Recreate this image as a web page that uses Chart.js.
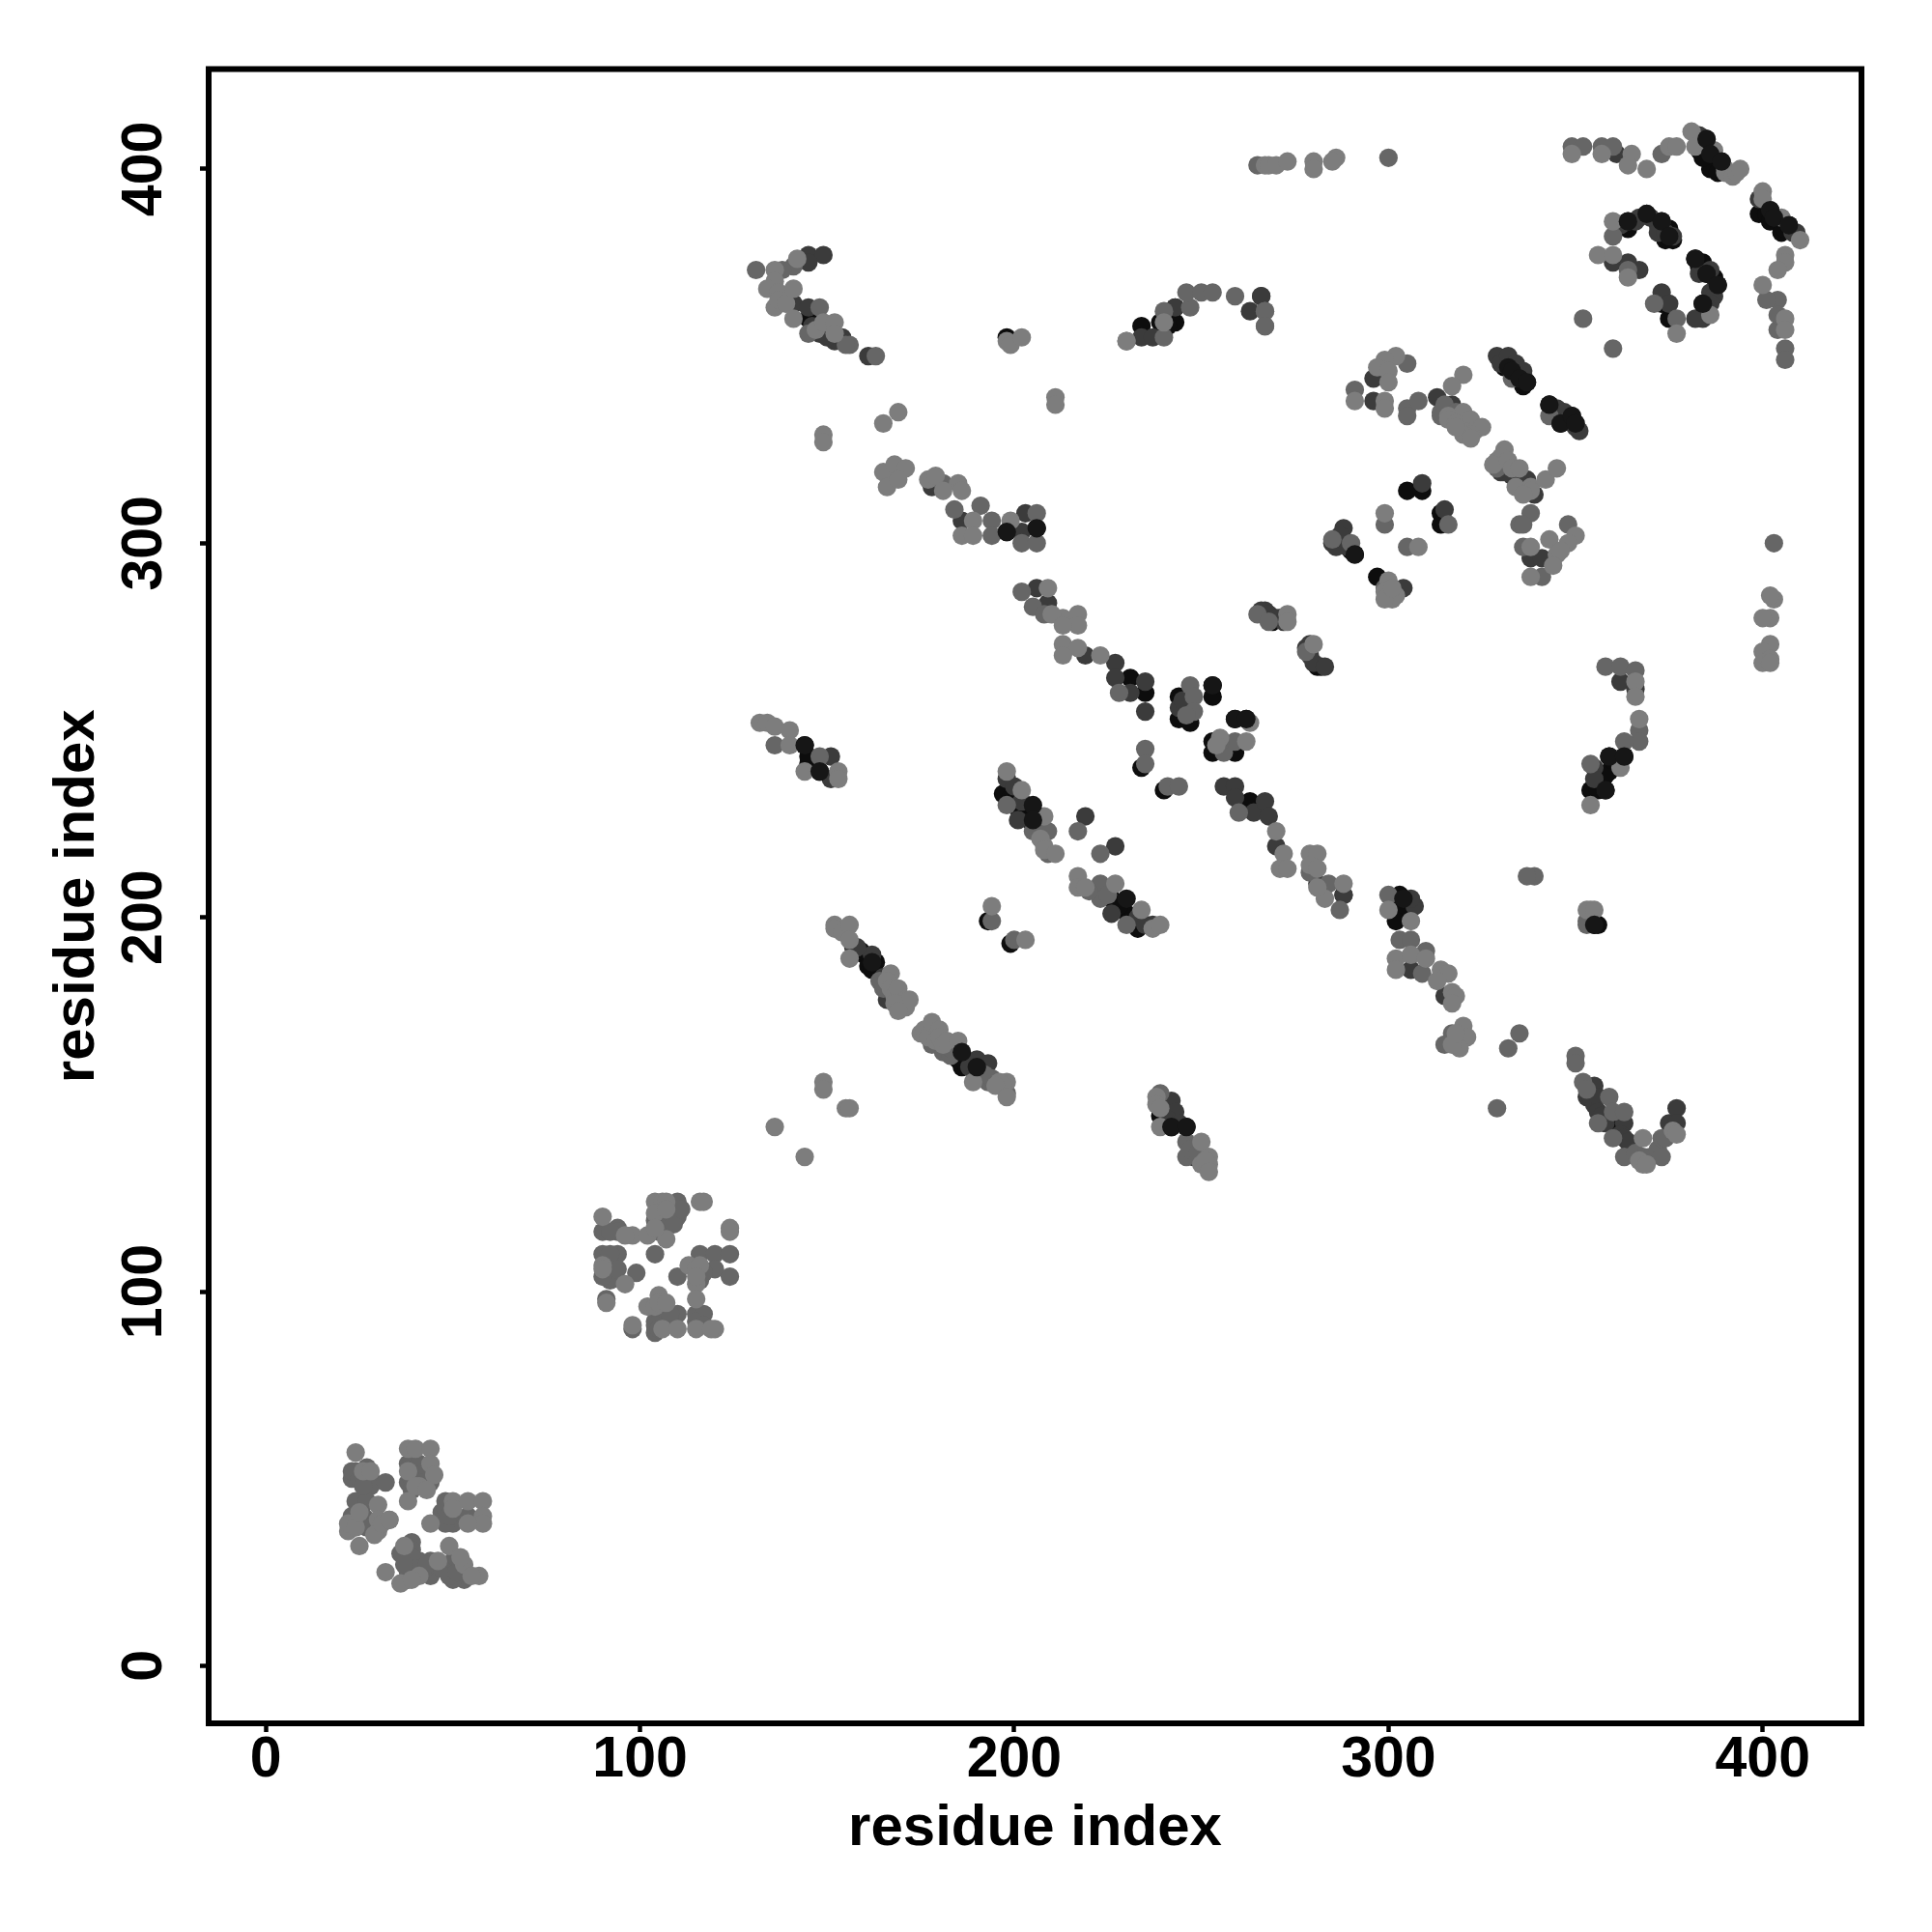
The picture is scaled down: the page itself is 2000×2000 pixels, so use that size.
<!DOCTYPE html>
<html>
<head>
<meta charset="utf-8">
<title>residue contact map</title>
<script src="https://cdn.jsdelivr.net/npm/chart.js@4"></script>
<style>
  body { margin: 0; background: #fff; }
  canvas { display: block; }
</style>
</head>
<body>
<canvas id="contactMap" width="2000" height="2000"></canvas>
<script>
// contacts, grouped by grey level: [residue, residue]
const blackPoints = [
  [144,246],[145,241],[148,239],[145,243],[197,233],[201,229],[205,226],[204,226],[203,228],[199,232],[160,190],[161,187],[163,188],[159,191],[162,186],[186,160],[190,159],[185,162],[187,161],
  [226,205],[233,197],[230,201],[228,203],[231,199],[193,199],[199,193],[239,147],[240,148],[242,144],[246,144],[240,234],[234,240],
  [253,247],[253,244],[259,244],[263,231],[231,264],[235,260],[244,259],[244,253],[247,252],[253,262],[253,259],[259,253],[262,253],
  [303,206],[303,203],[304,205],[305,204],[303,201],[302,199],[355,198],[356,198],[354,234],[356,234],[358,234],[357,236],[358,238],[359,243],[359,239],[360,242],[363,243],[271,280],[269,279],[281,267],[282,267],
  [360,145],[361,143],[198,303],[206,304],[198,355],[234,358],[239,359],[243,359],[241,358],[243,363],[145,360],
  [382,376],[384,375],[383,374],[388,369],[387,371],[384,364],[373,364],[375,360],[364,384],[375,384],[374,381],[376,381],[375,382],
  [385,408],[383,405],[384,406],[386,404],[387,403],[388,401],[386,400],[384,403],[389,402],[388,399],[402,389],[399,388],[401,388],[402,386],[403,387],[407,385],[405,383],[406,384],
  [331,347],[333,346],[337,343],[336,342],[335,344],[343,337],[344,336],[349,334],[346,332],[348,333],[309,314],[305,314],[314,308],[314,305],[291,297],[290,298],[297,291],[300,289]
];
const darkPoints = [
  [151,243],[151,237],[198,237],[202,231],[201,226],[200,235],[206,224],[157,192],[162,190],[158,192],[165,184],[166,178],[190,162],[193,161],[184,164],[188,160],[191,159],
  [226,201],[233,200],[237,198],[235,198],[219,227],[227,219],[242,151],[243,148],[241,146],[244,145],[248,136],
  [256,235],[259,235],[259,232],[264,228],[267,231],[268,227],[270,219],[235,255],[227,268],[227,264],[231,260],[235,263],[244,256],[245,258],
  [209,284],[206,288],[219,270],[203,308],[202,303],[186,306],[178,315],[281,209],[288,206],
  [145,377],[149,377],[145,375],[141,364],[145,363],[148,356],[152,354],[154,355],[150,355],[146,358],[161,350],
  [234,355],[237,355],[243,363],[263,362],[266,366],
  [267,282],[266,282],[268,281],[270,280],[272,279],[279,273],[278,272],[279,270],[280,268],[283,267],[362,263],[366,261],[355,240],[355,237],[307,203],[306,205],[306,186],[288,206],[315,179],
  [355,155],[353,152],[354,152],[355,150],[356,152],[356,148],[357,147],[358,145],[363,145],[362,142],[363,141],[364,140],[375,145],[377,149],[377,145],
  [361,404],[383,409],[399,392],[409,383],[408,383],[364,386],[362,385],[366,386],[367,387],[369,388],[370,387],[373,386],[372,385],[372,383],[374,383],[376,382],[360,375],[364,375],[367,373],
  [386,373],[385,372],[383,372],[386,367],[387,366],[386,364],[385,363],[384,360],[382,360],[373,367],[375,364],
  [329,350],[330,348],[332,350],[332,347],[334,348],[336,345],[336,346],[345,336],[347,335],[350,332],[350,331],[351,330],[330,319],[331,319],[333,318],[335,317],[337,316],[337,317],[339,313],
  [296,344],[296,338],[313,339],[317,337],[309,316],[315,309],[288,304],[285,300],[287,302],[289,299],[286,299],[338,296],[341,296],[304,288],[301,287],[266,366]
];
const midPoints = [
  [24,52],[23,50],[27,53],[28,50],[28,48],[24,44],[27,44],[23,40],[27,39],[33,39],[32,49],[24,39],[23,52],[25,50],[26,48],[26,40],[28,38],[27,37],
  [38,54],[41,54],[38,49],[41,51],[44,49],[39,50],[42,49],[39,47],[48,44],[50,40],[54,40],[50,38],[47,41],[48,42],[48,38],[49,40],[39,33],[39,31],[36,30],[44,28],[41,28],[50,28],[44,24],[38,25],[38,23],[53,23],[50,23],[39,29],[40,26],[37,27],[42,25],[47,26],[49,24],[51,25],[43,27],
  [94,117],[90,116],[94,116],[104,119],[110,120],[110,124],[106,117],[104,110],[94,110],[90,110],[116,110],[120,110],[124,110],[92,116],[92,110],[91,104],[92,104],[92,103],[105,122],[106,120],[108,118],[105,116],[109,118],[111,122],
  [90,104],[94,106],[99,105],[110,104],[116,103],[120,106],[124,104],[117,105],[115,94],[110,94],[106,94],[117,94],[104,92],[104,89],[98,90],[91,98],[106,92],[108,92],[104,91],[105,90],[115,92],[117,91],[108,94],
  [136,246],[148,243],[198,230],[205,223],[209,223],[209,217],[223,209],[223,205],[225,206],[220,207],[230,198],[217,223],[223,217],[194,199],[200,194],
  [165,181],[164,183],[178,166],[181,164],[183,163],[183,165],[193,156],[198,153],[194,157],[192,158],[246,140],[246,136],[239,153],[247,138],[249,137],
  [235,245],[235,241],[241,235],[244,235],[256,244],[260,228],[259,247],[255,247],
  [202,287],[205,283],[208,281],[184,309],[191,310],[181,316],[194,306],[194,302],[206,308],[202,300],[206,300],[228,260],[247,262],[248,259],[248,255],[246,254],
  [131,373],[141,374],[138,373],[148,363],[145,356],[156,353],[155,353],[163,350],[230,354],[240,362],[240,355],[247,363],[246,367],[250,367],[253,367],[259,366],[267,362],[267,358],
  [300,206],[303,194],[306,194],[310,191],[309,185],[279,212],[284,209],[287,202],[317,169],[315,166],[265,281],[268,279],[278,271],[299,288],
  [358,267],[362,267],[366,266],[367,250],[367,247],[363,247],[354,241],[339,211],[337,211],[350,163],[350,161],[329,149],[335,169],[332,165],[353,199],[353,198],
  [352,156],[353,154],[359,152],[356,145],[360,148],[363,148],[360,141],[363,136],[366,137],[368,136],[370,136],[372,138],[373,136],[373,141],[374,141],
  [265,401],[300,403],[349,406],[352,406],[357,406],[360,406],[373,404],[404,365],[404,357],[406,352],[406,349],[404,361],[401,365],[403,300],
  [360,382],[364,373],[371,364],[377,360],[352,360],[360,352],[305,348],[291,341],[305,336],[305,334],[308,338],[314,334],[343,334],
  [314,335],[315,337],[318,335],[329,320],[331,321],
  [338,308],[335,305],[336,305],[348,305],[336,299],[341,291],[305,299],[299,305],[285,301],[290,300],[316,305],[267,362],[267,358],[333,344]
];
const lightPoints = [
  [24,57],[38,58],[40,58],[44,58],[44,54],[30,43],[22,36],[25,32],[30,36],[30,39],[45,51],[41,48],[38,44],[26,52],[28,52],[22,38],[24,37],[29,35],[31,38],[25,41],[38,52],[40,48],[43,47],
  [50,44],[54,44],[58,44],[58,40],[58,38],[54,38],[44,38],[49,32],[41,24],[46,28],[53,27],[32,25],[57,24],[36,22],[33,39],[50,42],[37,32],[39,23],[55,24],[52,29],
  [90,120],[98,115],[102,115],[104,124],[106,124],[107,124],[116,124],[117,124],[107,114],[124,117],[124,116],[113,107],[115,106],[115,102],[96,115],[90,107],[104,121],[107,122],[104,117],[116,107],[115,104],
  [96,102],[90,106],[91,97],[105,99],[102,96],[115,98],[115,90],[120,90],[106,90],[110,90],[98,91],[104,96],[105,97],[119,90],[107,97],
  [132,252],[134,252],[136,251],[140,250],[140,246],[144,239],[153,239],[153,237],
  [198,239],[202,234],[208,227],[208,219],[207,221],[208,218],[211,217],[217,211],[217,208],[219,208],[227,209],[234,202],[237,197],[239,198],[194,203],[203,194],
  [152,198],[152,197],[154,196],[156,198],[156,194],[156,189],[167,185],[166,183],[167,181],[168,179],[169,181],[170,177],[171,178],[171,176],[172,178],[168,177],[169,175],
  [175,169],[176,170],[177,168],[178,172],[179,167],[180,170],[180,168],[181,166],[182,167],[185,167],[189,156],[198,156],[196,156],[197,155],[195,155],[198,152],
  [149,156],[149,154],[155,149],[156,149],[136,144],[144,136],
  [238,152],[238,150],[239,149],[239,144],[250,140],[252,136],[252,134],[250,134],[251,135],[252,132],
  [270,223],[272,217],[271,213],[273,213],[262,247],[263,252],[255,248],[254,246],
  [213,280],[210,281],[217,281],[217,278],[213,278],[213,273],[217,272],[213,270],[223,270],[209,288],
  [165,319],[168,321],[171,320],[166,315],[169,317],[177,317],[179,318],[185,316],[186,314],[181,314],[189,306],[186,302],[189,302],[199,306],
  [142,376],[136,373],[136,370],[134,368],[137,367],[136,363],[137,365],[139,364],[141,368],[141,360],[147,357],[149,359],[152,359],[152,356],[149,329],[149,327],[165,332],[169,335],[211,339],[211,337],
  [198,354],[199,353],[202,355],[240,359],[230,354],
  [273,281],[273,279],[280,273],[402,280],[400,280],[403,285],[402,273],[400,271],[402,269],[400,268],[402,268],[402,286],
  [279,217],[281,217],[279,214],[281,213],[283,205],[288,209],[281,208],[354,202],[353,202],
  [300,202],[306,199],[302,189],[306,190],[302,186],[310,189],[314,186],[316,185],[313,183],[317,180],[318,179],[317,177],[320,171],[321,168],[319,165],[317,166],[318,169],
  [366,263],[366,259],[367,253],[362,240],[354,230],[355,202],[368,141],[368,134],[367,135],[369,134],[376,143],[377,142],
  [267,401],[268,401],[270,401],[273,402],[280,402],[280,400],[286,403],[285,402],[349,404],[357,404],[365,404],[364,401],[369,400],[375,406],[377,406],[381,410],[382,406],[387,405],
  [390,399],[390,400],[392,398],[393,399],[394,400],[400,394],[400,392],[410,381],[405,387],[406,377],[406,375],[400,369],[404,373],[406,360],[406,357],
  [360,386],[356,377],[360,377],[364,371],[386,361],[377,356],
  [302,350],[299,349],[297,347],[300,346],[300,343],[291,338],[299,338],[299,336],[320,345],[317,342],[320,335],[316,334],[316,333],[318,332],[322,333],[320,330],[323,330],[325,331],[322,329],[320,329],[322,328],[318,331],
  [331,325],[330,323],[329,322],[328,321],[332,322],[333,320],[335,320],[334,315],[338,315],[338,314],[336,313],[342,317],[345,320],
  [350,302],[348,300],[343,301],[338,299],[345,297],[346,298],[344,294],[338,291],[299,308],[308,299],[300,290],[299,287],[301,285],[302,286],[299,285],[301,288]
];
// strongest contacts, these sit on top of the paler dots
const topPoints = [
  [332,347],[333,346],[335,344],[337,343],[343,337],[346,332],[349,334],[350,332],
  [364,386],[369,388],[373,386],[375,382],[382,376],[385,372],[388,369],[384,364],
  [385,408],[386,404],[389,402],[402,389],[403,387],[407,385],[205,230],[205,226],[230,205],
  [359,243],[358,234],[363,243],[355,198],[198,303],[206,304],[144,246],[148,239],[162,188],[186,164],[190,160],
  [242,144],[246,144],[304,205],[291,297],[253,262],[259,253],[262,253]
];
const tickValues = [0, 100, 200, 300, 400];
const axisTitle = "residue index";

const greyLevels = ["#0d0d0d", "#3b3b3b", "#666666", "#7d7d7d", "#161616"];
const groups = [blackPoints, darkPoints, midPoints, lightPoints, topPoints];

const frame = {
  id: "frame",
  afterDraw(chart) {
    const a = chart.chartArea, c = chart.ctx;
    c.save();
    c.lineWidth = 6;
    c.strokeStyle = "#000";
    c.strokeRect(a.left, a.top, a.right - a.left, a.bottom - a.top);
    c.restore();
  }
};

function axis(min, max, size) {
  return {
    type: "linear",
    min: min,
    max: max,
    afterBuildTicks(s) { s.ticks = tickValues.map(v => ({ value: v })); },
    afterFit(s) { if (s.isHorizontal()) s.height = size; else s.width = size; },
    grid: { drawOnChartArea: false, tickLength: 9, tickWidth: 4.5, tickColor: "#000" },
    border: { display: false }
  };
}

const fontTick = { family: "Liberation Sans", weight: "bold", size: 59 };
const fontTitle = { family: "Liberation Sans", weight: "bold", size: 60 };

const xAxis = axis(-15.28, 426.4, 216);
xAxis.ticks = { color: "#000", font: fontTick, padding: -6, maxRotation: 0, autoSkip: false };
xAxis.title = { display: true, text: axisTitle, color: "#000", font: fontTitle, padding: { top: 0, bottom: 71 } };

const yAxis = axis(-15.38, 426.7, 216);
yAxis.ticks = { color: "#000", font: fontTick, padding: 7, minRotation: 90, maxRotation: 90, crossAlign: "center", autoSkip: false };
yAxis.title = { display: true, text: axisTitle, color: "#000", font: fontTitle, padding: { top: 44, bottom: 0 } };

new Chart(document.getElementById("contactMap"), {
  type: "scatter",
  data: {
    datasets: groups.map((pts, i) => ({
      data: pts.map(p => ({ x: p[0], y: p[1] })),
      backgroundColor: greyLevels[i],
      borderWidth: 0,
      pointRadius: 9.6,
      order: groups.length - i
    }))
  },
  options: {
    responsive: false,
    animation: false,
    events: [],
    layout: { padding: { top: 71.5, right: 73, left: 0, bottom: 0 } },
    plugins: { legend: { display: false }, tooltip: { enabled: false } },
    scales: { x: xAxis, y: yAxis }
  },
  plugins: [frame]
});
</script>
</body>
</html>
